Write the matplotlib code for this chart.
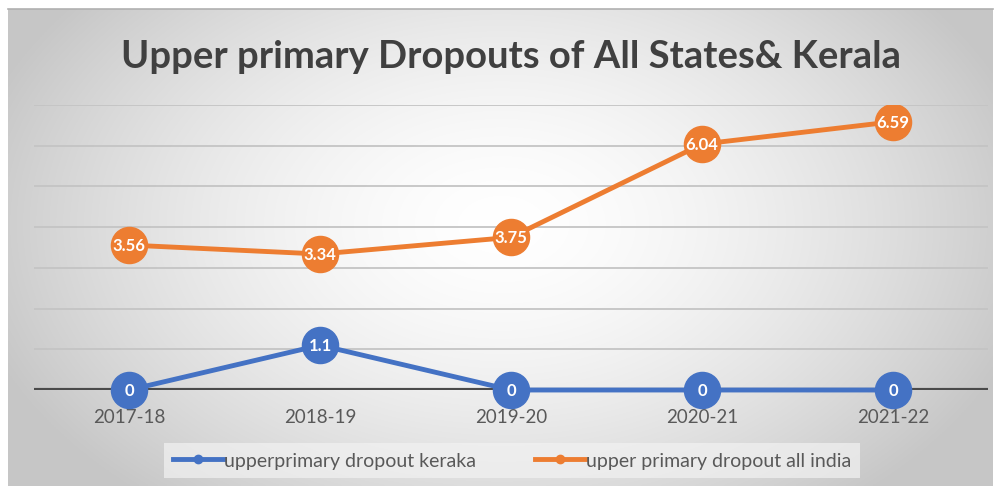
import numpy as np
import matplotlib
matplotlib.use("Agg")
import matplotlib.pyplot as plt
from matplotlib.lines import Line2D

years = ["2017-18", "2018-19", "2019-20", "2020-21", "2021-22"]
kerala = [0, 1.1, 0, 0, 0]
all_india = [3.56, 3.34, 3.75, 6.04, 6.59]
kerala_labels = ["0", "1.1", "0", "0", "0"]
india_labels = ["3.56", "3.34", "3.75", "6.04", "6.59"]

title = "Upper primary Dropouts of All States& Kerala"
name_kerala = "upperprimary dropout keraka"
name_india = "upper primary dropout all india"

BLUE = "#4472C4"
ORANGE = "#ED7D31"
FONT = ["Lato", "DejaVu Sans"]

fig = plt.figure(figsize=(10, 4.89), dpi=100)
fig.patch.set_facecolor("white")

# background gradient panel
bg = fig.add_axes([0.008, 0.004, 0.985, 0.975])
ny, nx = 200, 400
yy, xx = np.mgrid[0:ny, 0:nx]
cx, cy = nx * 0.5, ny * 0.45
r = np.sqrt(((xx - cx) / (nx * 0.55)) ** 2 + ((yy - cy) / (ny * 0.75)) ** 2)
r = np.clip(r, 0, 1)
val = 1.0 - 0.22 * r ** 1.6
img = np.dstack([val, val, val])
bg.imshow(img, aspect="auto", extent=[0, 1, 0, 1], interpolation="bilinear")
bg.set_axis_off()
fig.add_artist(Line2D([0.008, 0.993], [0.979, 0.979], color="#b0b0b0", lw=1.2))

ax = fig.add_axes([0.0335, 0.2004, 0.955, 0.5828])
ax.patch.set_alpha(0)
x = np.arange(len(years))
ax.set_xlim(-0.5, len(years) - 0.5)
ax.set_ylim(0, 7)
for v in range(1, 8):
    ax.axhline(v, color="#c4c4c4", lw=1.3, zorder=1)
ax.axhline(0, color="#4a4a4a", lw=3, zorder=1)

ax.plot(x, all_india, color=ORANGE, lw=3.5, marker="o", markersize=26,
        markerfacecolor=ORANGE, markeredgecolor=ORANGE, zorder=3)
ax.plot(x, kerala, color=BLUE, lw=3.5, marker="o", markersize=26,
        markerfacecolor=BLUE, markeredgecolor=BLUE, zorder=4, clip_on=False)
for xi, yi, lab in zip(x, all_india, india_labels):
    ax.text(xi, yi, lab, color="white", fontsize=12, fontweight="bold",
            ha="center", va="center", family=FONT, zorder=5)
for xi, yi, lab in zip(x, kerala, kerala_labels):
    ax.text(xi, yi, lab, color="white", fontsize=12, fontweight="bold",
            ha="center", va="center", family=FONT, zorder=5)

ax.set_xticks(x)
ax.set_xticklabels(years, fontsize=13.5, color="#595959", family=FONT)
ax.tick_params(axis="x", length=0, pad=13)
ax.set_yticks([])
for s in ax.spines.values():
    s.set_visible(False)

fig.text(0.511, 0.884, title, ha="center", va="center", fontsize=27.5,
         fontweight="bold", color="#404040", family=FONT)

handles = [
    Line2D([], [], color=BLUE, lw=3.5, marker="o", markersize=6),
    Line2D([], [], color=ORANGE, lw=3.5, marker="o", markersize=6),
]
leg = fig.legend(handles, [name_kerala, name_india], loc="center",
                 bbox_to_anchor=(0.512, 0.056), ncol=2, frameon=True,
                 handlelength=2.6, handletextpad=0.05,
                 columnspacing=3.0, borderpad=0.45, borderaxespad=0,
                 prop={"family": FONT, "size": 14})
leg.get_frame().set_facecolor("#f2f2f2")
leg.get_frame().set_alpha(0.7)
leg.get_frame().set_edgecolor("none")
leg.get_frame().set_boxstyle("square", pad=0)
for t in leg.get_texts():
    t.set_color("#595959")

fig.savefig("out.png", dpi=100)
